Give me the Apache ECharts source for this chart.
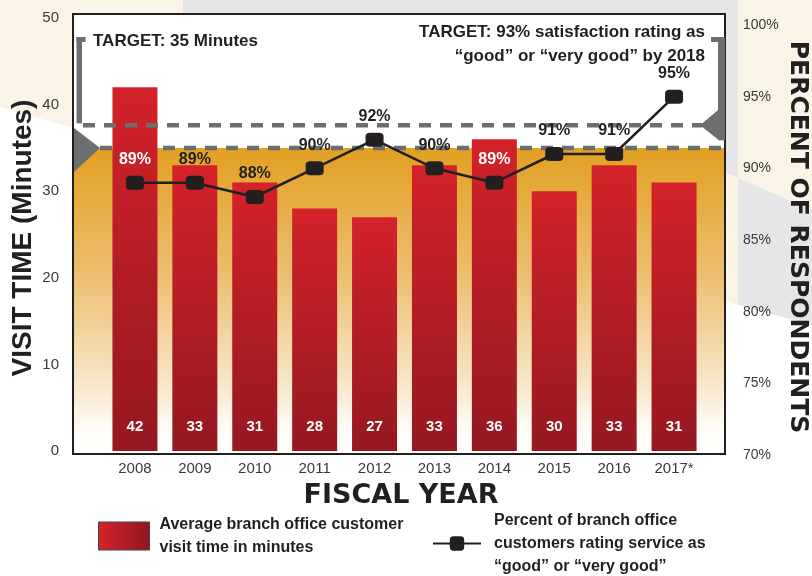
<!DOCTYPE html>
<html>

<head>
    <meta charset="utf-8">
    <title>Branch office visit time</title>
    <style>
        html,
        body {
            margin: 0;
            padding: 0;
            background: #fff;
        }

        #chart {
            width: 812px;
            height: 576px;
        }
    </style>
</head>

<body>
    <div id="chart"></div>
</body>
<script type="text/javascript" src="https://cdn.jsdelivr.net/npm/echarts@6/dist/echarts.min.js"></script>
<script type="text/javascript">
    // 数据
    var years = ['2008', '2009', '2010', '2011', '2012', '2013', '2014', '2015', '2016', '2017*'];
    var visitMinutes = [42, 33, 31, 28, 27, 33, 36, 30, 33, 31];
    var satisfaction = [89, 89, 88, 90, 92, 90, 89, 91, 91, 95];
    var minuteRange = [0, 50, 10];     // min, max, interval
    var percentRange = [70, 100, 5];
    var targetMinutes = 35;
    var targetPercent = 93;
    // 这两年的标签落在红柱里，用白字
    var whiteLabelYears = ['2008', '2014'];

    var BAR_NAME = 'Average branch office customer visit time in minutes';
    var LINE_NAME = 'Percent of branch office customers rating service as “good” or “very good”';

    var FONT = '"Liberation Sans", Arial, sans-serif';
    var WIDE = '"DejaVu Sans", sans-serif';
    var DARK = '#231F20';
    var GRAY = '#6D6E70';
    var BEIGE = '#FAF4E7';
    var LIGHTGRAY = '#E6E6E7';

    var myChart = echarts.init(document.getElementById('chart'));

    var lineData = satisfaction.map(function(v, i) {
        var inBar = whiteLabelYears.indexOf(years[i]) > -1;
        return {
            value: v,
            label: {
                color: inBar ? '#fff' : DARK
            }
        };
    });

    var tickLabel = {
        fontFamily: FONT,
        fontSize: 15,
        color: '#3a3a3a'
    };

    var option = {
        animation: false,
        grid: [{
            left: 105,
            right: 108,
            top: 18,
            bottom: 125
        }, {
            left: 105,
            right: 108,
            top: 25,
            bottom: 121
        }],
        xAxis: [{
            type: 'category',
            gridIndex: 0,
            data: years,
            axisLine: { show: false },
            axisTick: { show: false },
            axisLabel: Object.assign({ margin: 10 }, tickLabel)
        }, {
            type: 'category',
            gridIndex: 1,
            data: years,
            show: false
        }],
        yAxis: [{
            type: 'value',
            gridIndex: 0,
            min: minuteRange[0],
            max: minuteRange[1],
            interval: minuteRange[2],
            splitLine: { show: false },
            axisLine: { show: false },
            axisTick: { show: false },
            axisLabel: Object.assign({ margin: 46 }, tickLabel)
        }, {
            type: 'value',
            gridIndex: 1,
            position: 'right',
            min: percentRange[0],
            max: percentRange[1],
            interval: percentRange[2],
            splitLine: { show: false },
            axisLine: { show: false },
            axisTick: { show: false },
            axisLabel: Object.assign({ margin: 39, formatter: '{value}%' }, tickLabel, { fontSize: 14 })
        }],
        legend: [{
            data: [{
                name: BAR_NAME,
                icon: 'rect',
                itemStyle: {
                    color: new echarts.graphic.LinearGradient(0, 0, 1, 0, [
                        { offset: 0, color: '#D8222B' },
                        { offset: 1, color: '#8E1820' }
                    ]),
                    borderColor: '#444',
                    borderWidth: 1
                }
            }],
            left: 98,
            top: 513,
            itemWidth: 51,
            itemHeight: 28,
            padding: 0,
            selectedMode: false,
            formatter: function() {
                return 'Average branch office customer\nvisit time in minutes';
            },
            textStyle: {
                fontFamily: FONT,
                fontSize: 16,
                fontWeight: 'bold',
                color: DARK,
                lineHeight: 23,
                padding: [0, 0, 0, 5]
            }
        }, {
            data: [LINE_NAME],
            left: 432,
            top: 509,
            itemWidth: 48,
            itemHeight: 18,
            padding: 0,
            selectedMode: false,
            formatter: function() {
                return 'Percent of branch office\ncustomers rating service as\n“good” or “very good”';
            },
            textStyle: {
                fontFamily: FONT,
                fontSize: 16,
                fontWeight: 'bold',
                color: DARK,
                lineHeight: 23,
                padding: [0, 0, 0, 8]
            }
        }],
        series: [{
            name: BAR_NAME,
            type: 'bar',
            xAxisIndex: 0,
            yAxisIndex: 0,
            data: visitMinutes,
            barWidth: 45,
            z: 2,
            itemStyle: {
                color: new echarts.graphic.LinearGradient(0, 0, 0, 1, [
                    { offset: 0, color: '#D3222A' },
                    { offset: 1, color: '#951820' }
                ])
            },
            label: {
                show: true,
                position: 'insideBottom',
                distance: 17,
                color: '#fff',
                fontFamily: FONT,
                fontSize: 15,
                fontWeight: 'bold'
            }
        }, {
            name: LINE_NAME,
            type: 'line',
            xAxisIndex: 1,
            yAxisIndex: 1,
            data: lineData,
            symbol: 'roundRect',
            symbolSize: [18, 14],
            z: 5,
            itemStyle: {
                color: DARK
            },
            lineStyle: {
                color: DARK,
                width: 2.5
            },
            label: {
                show: true,
                position: 'top',
                distance: 8,
                formatter: '{c}%',
                fontFamily: FONT,
                fontSize: 16,
                fontWeight: 'bold'
            }
        }]
    };

    myChart.setOption(option);

    // 目标线的位置由坐标轴换算
    var y35 = myChart.convertToPixel({ yAxisIndex: 0 }, targetMinutes);
    var y93 = myChart.convertToPixel({ yAxisIndex: 1 }, targetPercent);

    function buildGraphic() {
        var els = [];
        // 背景色块
        els.push({ type: 'polygon', z: 0, shape: { points: [[0, 0], [183, 0], [183, 20], [73, 20], [73, 128], [0, 107]] }, style: { fill: BEIGE } });
        els.push({ type: 'rect', z: 0, shape: { x: 183, y: 0, width: 555, height: 20 }, style: { fill: LIGHTGRAY } });
        els.push({ type: 'polygon', z: 0, shape: { points: [[738, 0], [812, 0], [812, 210], [738, 178]] }, style: { fill: BEIGE } });
        els.push({ type: 'polygon', z: 0, shape: { points: [[720, 0], [738, 0], [738, 178], [720, 170]] }, style: { fill: LIGHTGRAY } });
        els.push({ type: 'polygon', z: 0, shape: { points: [[738, 178], [812, 210], [812, 325], [738, 305]] }, style: { fill: LIGHTGRAY } });
        els.push({ type: 'polygon', z: 0, shape: { points: [[720, 170], [738, 178], [738, 305], [720, 300]] }, style: { fill: BEIGE } });
        // 绘图区
        els.push({ type: 'rect', z: 0, z2: 5, shape: { x: 73, y: 14, width: 652, height: 440 }, style: { fill: '#fff' } });
        els.push({
            type: 'rect',
            z: 1,
            shape: { x: 73, y: y35, width: 652, height: 454 - y35 },
            style: {
                fill: new echarts.graphic.LinearGradient(0, 0, 0, 1, [
                    { offset: 0, color: '#E2A023' },
                    { offset: 0.4, color: '#EBBD6C' },
                    { offset: 0.75, color: '#F7E4C3' },
                    { offset: 0.92, color: '#FFFCF7' },
                    { offset: 1, color: '#FFFFFF' }
                ])
            }
        });
        // 虚线
        els.push({ type: 'line', z: 1, z2: 2, shape: { x1: 100, y1: y35, x2: 725, y2: y35 }, style: { stroke: GRAY, lineWidth: 4.5, lineDash: [12, 9] } });
        els.push({ type: 'line', z: 3, shape: { x1: 83, y1: y93, x2: 702, y2: y93 }, style: { stroke: GRAY, lineWidth: 4.5, lineDash: [12, 9] } });
        els.push({ type: 'rect', z: 1, z2: 9, shape: { x: 73, y: 14, width: 652, height: 440 }, style: { fill: null, stroke: DARK, lineWidth: 2 } });
        // 左侧括号
        els.push({ type: 'rect', z: 3, shape: { x: 76.5, y: 37, width: 5.5, height: y93 - 37 - 2 }, style: { fill: GRAY } });
        els.push({ type: 'rect', z: 3, shape: { x: 76.5, y: 37, width: 9, height: 5 }, style: { fill: GRAY } });
        els.push({ type: 'polygon', z: 3, shape: { points: [[74, y35 - 20], [100, y35], [74, y35 + 24]] }, style: { fill: GRAY } });
        // 右侧括号
        els.push({ type: 'rect', z: 3, shape: { x: 718, y: 37, width: 7, height: y93 + 15 - 37 } , style: { fill: GRAY } });
        els.push({ type: 'rect', z: 3, shape: { x: 711, y: 37, width: 14, height: 5 }, style: { fill: GRAY } });
        els.push({ type: 'polygon', z: 3, shape: { points: [[719, y93 - 16], [700, y93], [719, y93 + 15]] }, style: { fill: GRAY } });
        // 文字
        els.push({
            type: 'text', z: 3, x: 93, y: 41,
            style: { text: 'TARGET: 35 Minutes', fontFamily: FONT, fontSize: 17, fontWeight: 'bold', fill: DARK, textVerticalAlign: 'middle' }
        });
        els.push({
            type: 'text', z: 3, x: 705, y: 44,
            style: {
                text: 'TARGET: 93% satisfaction rating as\n“good” or “very good” by 2018',
                fontFamily: FONT, fontSize: 17, fontWeight: 'bold', fill: DARK,
                textAlign: 'right', textVerticalAlign: 'middle', lineHeight: 24
            }
        });
        els.push({
            type: 'text', z: 3, x: 23, y: 238, rotation: Math.PI / 2,
            style: { text: 'VISIT TIME (Minutes)', fontFamily: FONT, fontSize: 28, fontWeight: 'bold', fill: DARK, textAlign: 'center', textVerticalAlign: 'middle' }
        });
        els.push({
            type: 'text', z: 3, x: 797, y: 237, rotation: -Math.PI / 2,
            style: { text: 'PERCENT OF RESPONDENTS', fontFamily: WIDE, fontSize: 25, fontWeight: 'bold', fill: DARK, textAlign: 'center', textVerticalAlign: 'middle' }
        });
        els.push({
            type: 'text', z: 3, x: 401, y: 496,
            style: { text: 'FISCAL YEAR', fontFamily: WIDE, fontSize: 27, fontWeight: 'bold', fill: DARK, textAlign: 'center', textVerticalAlign: 'middle' }
        });
        return els;
    }

    myChart.setOption({
        graphic: buildGraphic()
    });
</script>

</html>
